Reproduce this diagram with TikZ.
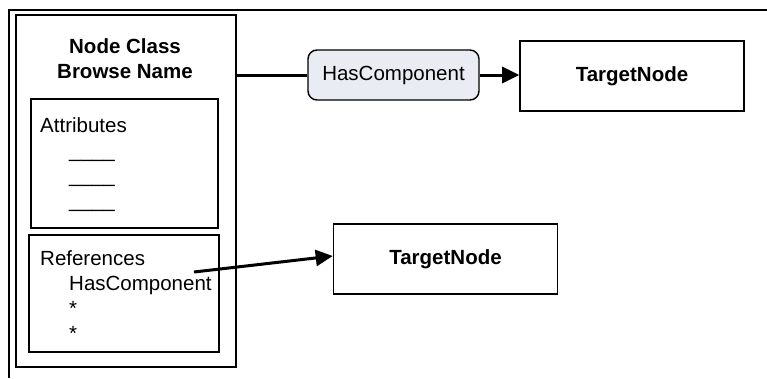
\documentclass[tikz,border=0pt]{standalone}
\usepackage{fontspec}
\setmainfont{Liberation Sans}
\usepackage{tikz}
\usetikzlibrary{arrows.meta,positioning}

\definecolor{labelfill}{RGB}{233,236,242}

\begin{document}
\begin{tikzpicture}[x=1pt,y=-1pt,>={Triangle[length=17pt,width=16pt]},
  every node/.style={font=\fontsize{20.5}{25}\selectfont},
  box/.style={draw,line width=1.6pt,inner sep=0pt},
  txt/.style={inner sep=0pt,align=left,anchor=north west},
  rel/.style={draw,line width=1.4pt,rounded corners=9pt,fill=labelfill,
    minimum width=171pt,minimum height=50pt,inner sep=0pt},
  target/.style={box,minimum width=224pt,minimum height=70pt,font=\fontsize{20.5}{25}\selectfont\bfseries},
  link/.style={line width=3pt}]
 \useasboundingbox (0,0) rectangle (767,378);
 % outer frame, cut off at right and bottom
 \draw[line width=1.6pt] (9,378) -- (9,10) -- (767,10);

 \node[box,minimum width=220pt,minimum height=352pt] (cls) at (126,191) {};
 \node[inner sep=0pt,align=center,anchor=north,font=\fontsize{20.5}{25}\selectfont\bfseries]
   (title) at (125,38) {Node Class\\Browse Name};

 \node[box,minimum width=187pt,minimum height=129pt] (attr) at (124.5,163.5) {};
 \node[txt] (attrtxt) at (40,117)
   {Attributes\\\hspace*{29pt}\_\_\_\_\\\hspace*{29pt}\_\_\_\_\\\hspace*{29pt}\_\_\_\_};

 \node[box,minimum width=190pt,minimum height=117pt] (refs) at (124,293.5) {};
 \node[txt] (refstxt) at (40,250)
   {References\\\hspace*{29pt}HasComponent\\\hspace*{29pt}*\\\hspace*{29pt}*};

 \node[rel] (hc) at (393.5,75) {HasComponent};
 \node[target] (tgtA) at (632,76) {TargetNode};
 \node[target] (tgtB) at (445.5,259) {TargetNode};
 \coordinate (refout) at (194,272);

 \draw[link] (hc.west -| cls.east) -- (hc.west);
 \draw[link,->] (hc.east) -- (tgtA.west |- hc.east);
 \draw[link,->] (refout) -- ([yshift=3pt]tgtB.west);
\end{tikzpicture}
\end{document}
